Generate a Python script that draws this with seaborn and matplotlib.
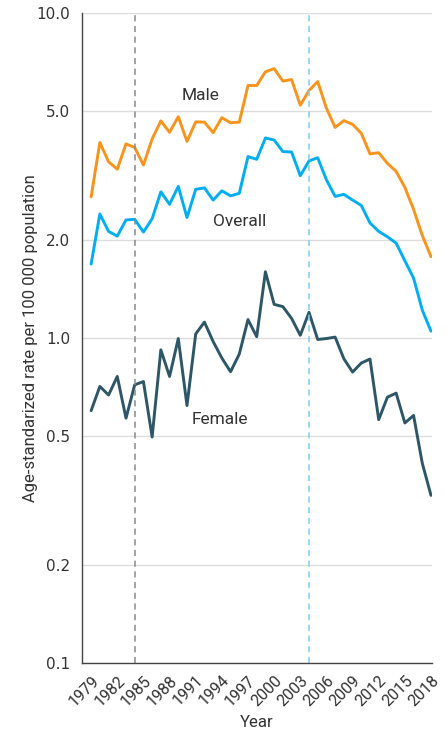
import numpy as np
import pandas as pd
import matplotlib
matplotlib.use('Agg')
import matplotlib.pyplot as plt
from matplotlib.ticker import FixedLocator, NullFormatter, MultipleLocator
import seaborn as sns

years = list(range(1979, 2019))

male = [2.72, 4.00, 3.49, 3.31, 3.96, 3.86, 3.41, 4.10, 4.66, 4.30,
        4.80, 4.03, 4.63, 4.62, 4.29, 4.77, 4.60, 4.62, 5.99, 5.99,
        6.60, 6.75, 6.18, 6.25, 5.21, 5.78, 6.16, 5.10, 4.45, 4.67,
        4.55, 4.27, 3.69, 3.72, 3.45, 3.26, 2.91, 2.49, 2.07, 1.78]

overall = [1.69, 2.41, 2.13, 2.06, 2.31, 2.32, 2.12, 2.33, 2.82, 2.58,
           2.93, 2.35, 2.87, 2.90, 2.66, 2.84, 2.74, 2.79, 3.62, 3.55,
           4.13, 4.07, 3.75, 3.74, 3.16, 3.51, 3.59, 3.07, 2.73, 2.77,
           2.66, 2.56, 2.26, 2.13, 2.05, 1.96, 1.73, 1.53, 1.22, 1.05]

female = [0.598, 0.71, 0.668, 0.762, 0.567, 0.718, 0.735, 0.496, 0.92, 0.762,
          0.997, 0.62, 1.03, 1.12, 0.976, 0.868, 0.788, 0.893, 1.14, 1.01,
          1.60, 1.27, 1.25, 1.15, 1.02, 1.20, 0.99, 0.997, 1.007, 0.864,
          0.786, 0.838, 0.862, 0.561, 0.658, 0.677, 0.548, 0.578, 0.412, 0.328]

groups = ['Male', 'Overall', 'Female']
colors = {'Male': '#F7941D', 'Overall': '#00AEEF', 'Female': '#2D5766'}
label_pos = {'Male': (1991.6, 5.6), 'Overall': (1996.0, 2.28), 'Female': (1993.8, 0.56)}

y_ticks = [0.1, 0.2, 0.5, 1.0, 2.0, 5.0, 10.0]
x_ticks = list(range(1979, 2019, 3))
event_years = [1984, 2004]

df = pd.DataFrame({
    'Year': years * 3,
    'Rate': male + overall + female,
    'Group': ['Male'] * 40 + ['Overall'] * 40 + ['Female'] * 40,
})

sns.set_style('white')
plt.rcParams['font.family'] = ['Roboto', 'DejaVu Sans']

fig = plt.figure(figsize=(4.48, 7.33), dpi=100)
ax = fig.add_axes([0.183, 0.0955, 0.781, 0.8865])

sns.lineplot(data=df, x='Year', y='Rate', hue='Group', hue_order=groups,
             palette=colors, linewidth=2.1, legend=False, ax=ax)

ax.set_yscale('log')
ax.set_ylim(0.1, 10)
ax.set_xlim(1977.95, 2018.1)
ax.yaxis.set_major_locator(FixedLocator(y_ticks))
ax.yaxis.set_minor_locator(FixedLocator([]))
ax.yaxis.set_minor_formatter(NullFormatter())
ax.set_yticklabels([f'{v:.1f}' for v in y_ticks], family=['DejaVu Sans'])
ax.xaxis.set_major_locator(FixedLocator(x_ticks))
ax.xaxis.set_minor_locator(MultipleLocator(1))
ax.set_xticklabels([str(y) for y in x_ticks], rotation=45, ha='right',
                   rotation_mode='anchor')

ax.grid(axis='y', color='#dddddd', linewidth=1)
ax.set_axisbelow(True)
for side in ['top', 'right']:
    ax.spines[side].set_visible(False)
for side in ['left', 'bottom']:
    ax.spines[side].set_color('#444444')
    ax.spines[side].set_linewidth(1)

ax.tick_params(axis='y', which='major', direction='out', length=5,
               color='#444444', labelsize=11, labelcolor='#333333')
ax.tick_params(axis='x', which='both', direction='out', length=5,
               color='#444444', labelsize=11.5, labelcolor='#333333')
ax.tick_params(axis='x', which='major', pad=2)

ax.axvline(event_years[0], color='#8a8a8a', linestyle=(0, (4, 3)), linewidth=1.1)
ax.axvline(event_years[1], color='#7fcff0', linestyle=(0, (4, 3)), linewidth=1.1)

for g in groups:
    x, y = label_pos[g]
    ax.text(x, y, g, ha='center', va='center', fontsize=12.5, color='#333333')

ax.set_xlabel('Year', fontsize=12, color='#333333', labelpad=4)
ax.set_ylabel('Age-standarized rate per 100 000 population', fontsize=12,
              color='#333333')
ax.yaxis.set_label_coords(-0.126, 0.5)

fig.savefig('out.png', dpi=100)
